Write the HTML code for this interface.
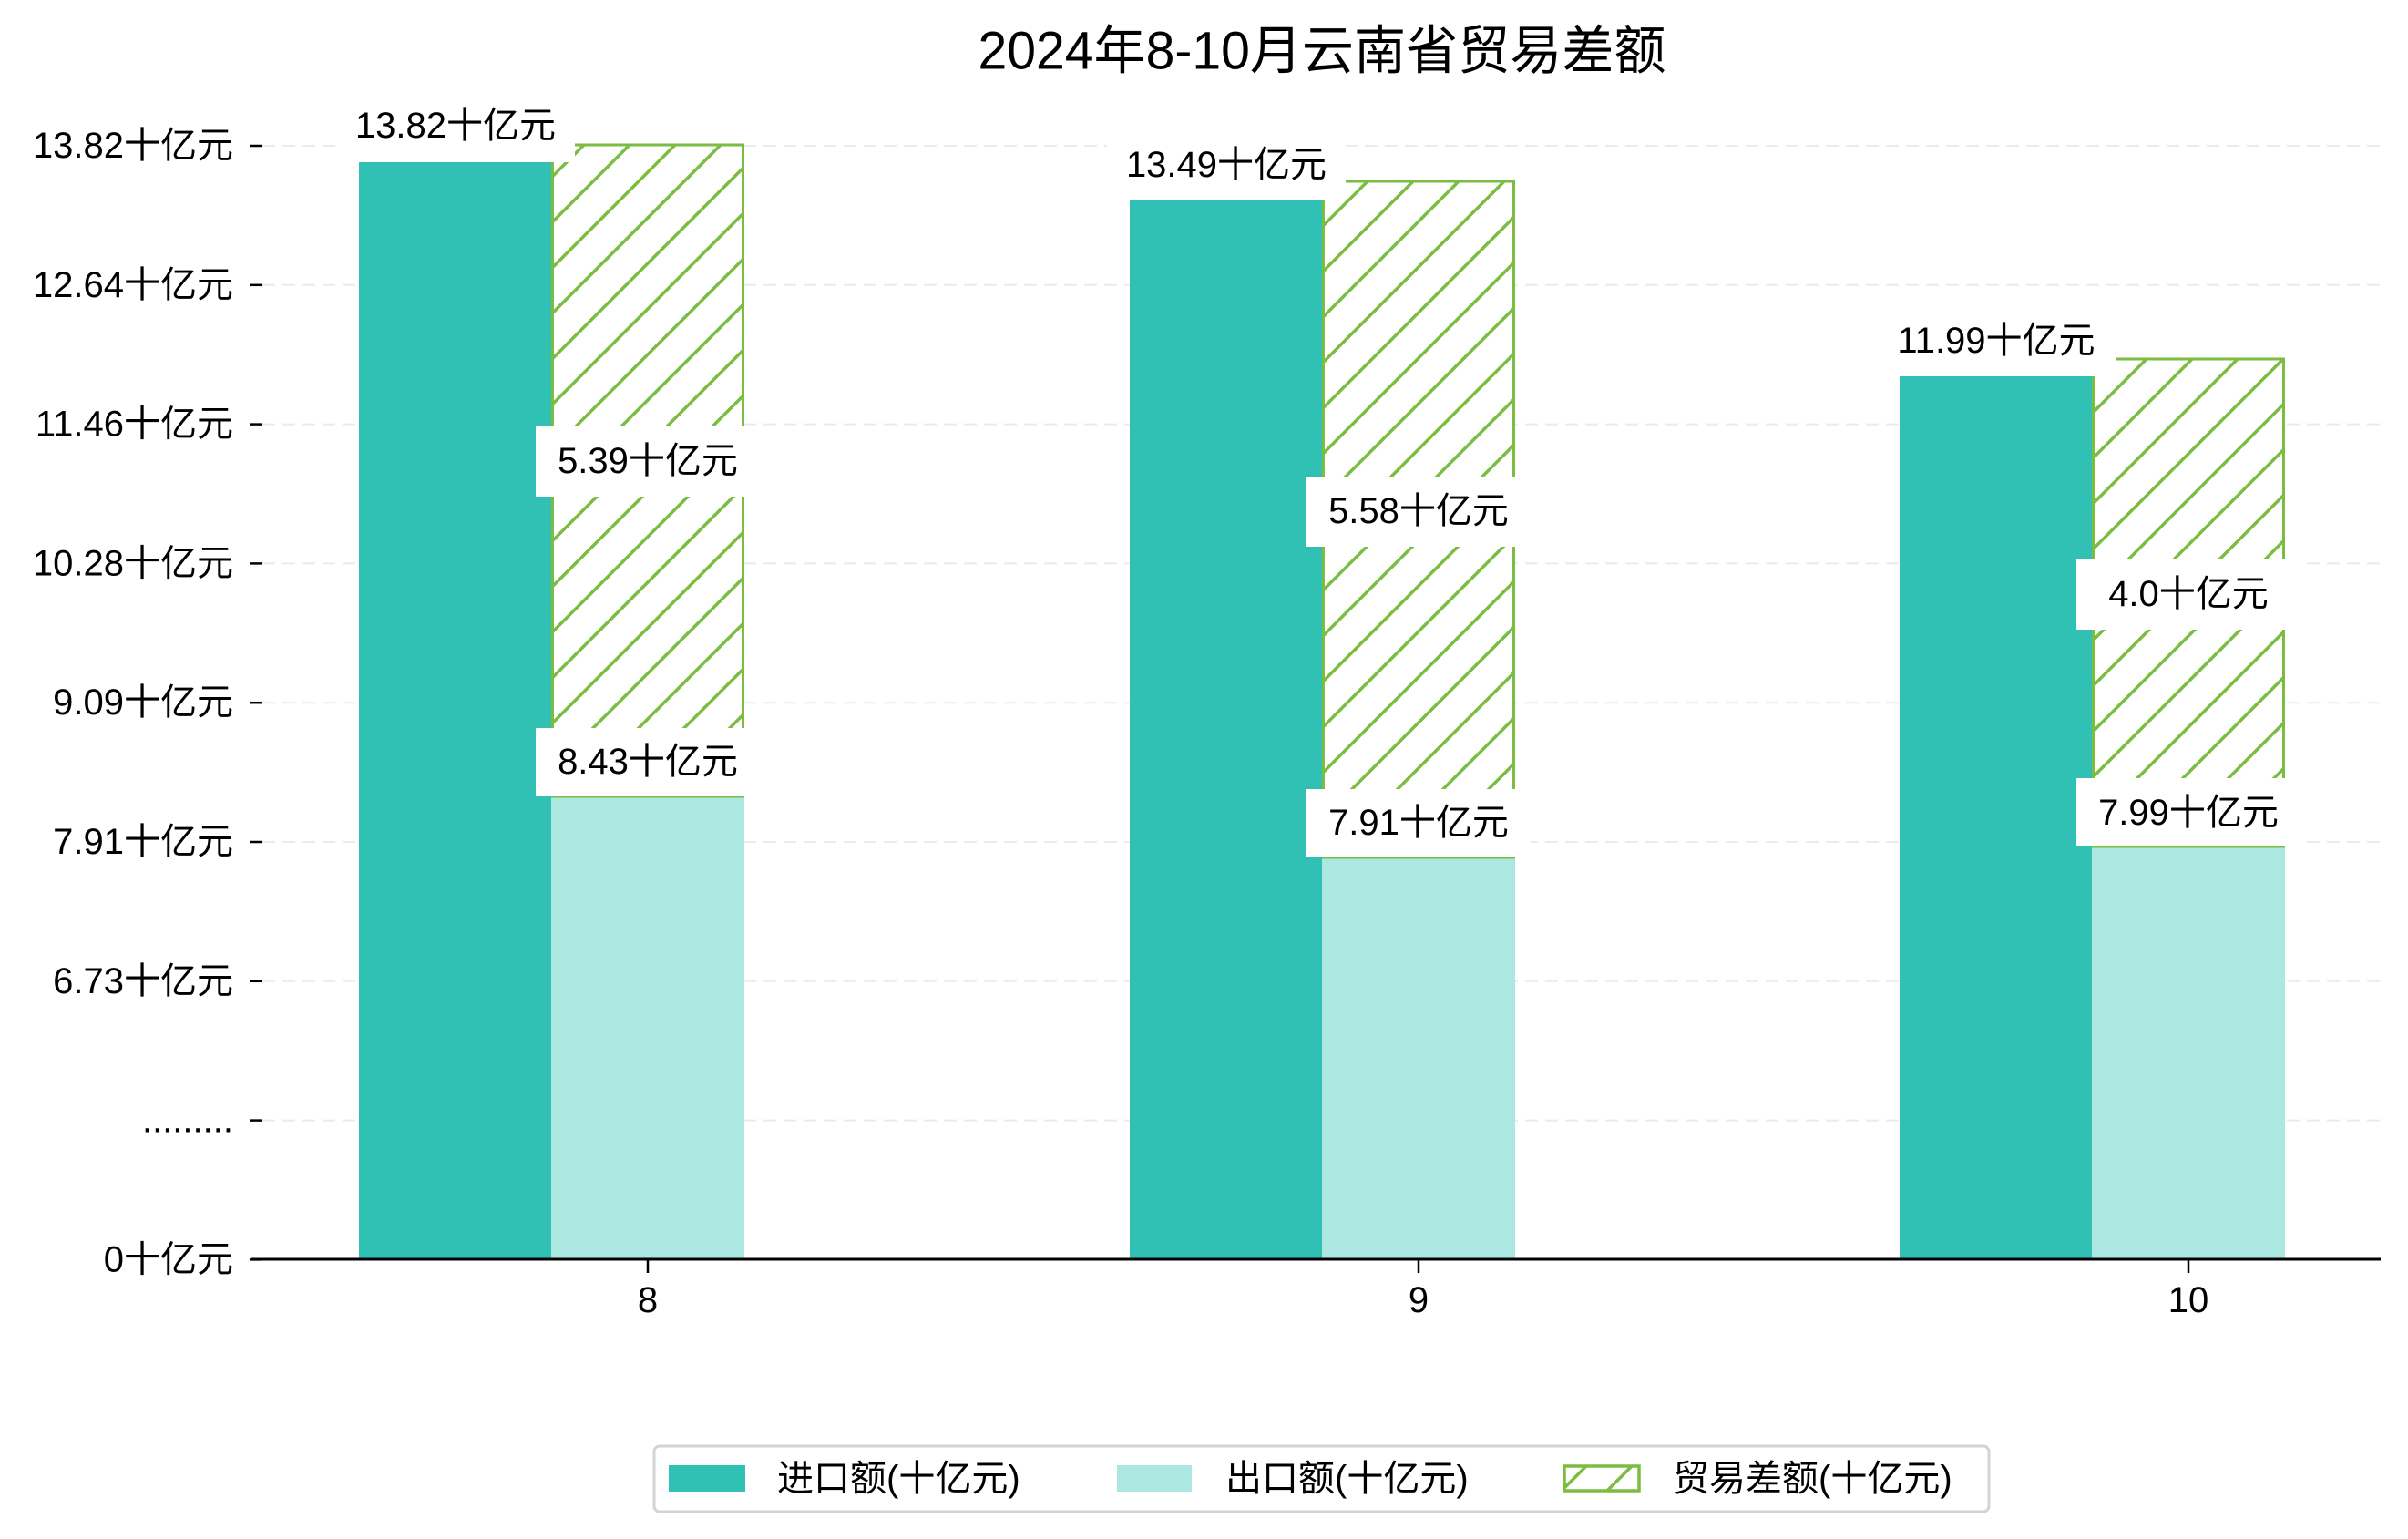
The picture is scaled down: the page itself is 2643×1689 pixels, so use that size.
<!DOCTYPE html>
<html><head><meta charset="utf-8"><style>
html,body{margin:0;padding:0;background:#fff;}
svg{display:block;}
text{font-family:"Liberation Sans","Noto Sans CJK SC",sans-serif;fill:#000;}
</style></head><body>
<svg width="2643" height="1689" viewBox="0 0 2643 1689" xmlns="http://www.w3.org/2000/svg">
<defs>
<pattern id="h" patternUnits="userSpaceOnUse" width="50" height="50">
<rect width="50" height="50" fill="#fff"/>
<path d="M-5,5 L5,-5 M0,50 L50,0 M45,55 L55,45" stroke="#7bbd40" stroke-width="3.5"/>
</pattern>
</defs>
<text x="1451" y="56" font-size="58" text-anchor="middle" dominant-baseline="central" textLength="755" lengthAdjust="spacingAndGlyphs">2024年8-10月云南省贸易差额</text>
<g stroke="#ebebeb" stroke-width="2" stroke-dasharray="14,8">
<line x1="288" x2="2613" y1="160" y2="160"/><line x1="288" x2="2613" y1="312.8" y2="312.8"/>
<line x1="288" x2="2613" y1="465.6" y2="465.6"/><line x1="288" x2="2613" y1="618.4" y2="618.4"/>
<line x1="288" x2="2613" y1="771.2" y2="771.2"/><line x1="288" x2="2613" y1="924" y2="924"/>
<line x1="288" x2="2613" y1="1076.8" y2="1076.8"/><line x1="288" x2="2613" y1="1229.6" y2="1229.6"/>
</g>
<g stroke="#000" stroke-width="2.5">
<line x1="274" x2="288" y1="160" y2="160"/><line x1="274" x2="288" y1="312.8" y2="312.8"/>
<line x1="274" x2="288" y1="465.6" y2="465.6"/><line x1="274" x2="288" y1="618.4" y2="618.4"/>
<line x1="274" x2="288" y1="771.2" y2="771.2"/><line x1="274" x2="288" y1="924" y2="924"/>
<line x1="274" x2="288" y1="1076.8" y2="1076.8"/><line x1="274" x2="288" y1="1229.6" y2="1229.6"/>
<line x1="274" x2="288" y1="1382.4" y2="1382.4"/>
<line x1="711" x2="711" y1="1382" y2="1397"/><line x1="1557" x2="1557" y1="1382" y2="1397"/><line x1="2402" x2="2402" y1="1382" y2="1397"/>
</g>
<g font-size="40" text-anchor="end" dominant-baseline="central">
<text x="256" y="160">13.82十亿元</text><text x="256" y="312.8">12.64十亿元</text>
<text x="256" y="465.6">11.46十亿元</text><text x="256" y="618.4">10.28十亿元</text>
<text x="256" y="771.2">9.09十亿元</text><text x="256" y="924">7.91十亿元</text>
<text x="256" y="1076.8">6.73十亿元</text><text x="256" y="1229.6">.........</text>
<text x="256" y="1382.4">0十亿元</text>
</g>
<g font-size="40" text-anchor="middle" dominant-baseline="central">
<text x="711" y="1427">8</text><text x="1557" y="1427">9</text><text x="2402" y="1427">10</text>
</g>
<!-- group 8 -->
<rect x="394" y="178" width="211" height="1204" fill="#31c0b4"/>
<rect x="605" y="874" width="212" height="508" fill="#abe8e2"/>
<rect x="606.5" y="159" width="209" height="715" fill="url(#h)" stroke="#7bbd40" stroke-width="3"/>
<!-- group 9 -->
<rect x="1240" y="219" width="211" height="1163" fill="#31c0b4"/>
<rect x="1451" y="941" width="212" height="441" fill="#abe8e2"/>
<rect x="1452.5" y="199" width="209" height="742" fill="url(#h)" stroke="#7bbd40" stroke-width="3"/>
<!-- group 10 -->
<rect x="2085" y="413" width="211" height="969" fill="#31c0b4"/>
<rect x="2296" y="929" width="212" height="453" fill="#abe8e2"/>
<rect x="2297.5" y="394" width="209" height="535" fill="url(#h)" stroke="#7bbd40" stroke-width="3"/>
<line x1="275" x2="2613" y1="1382" y2="1382" stroke="#000" stroke-width="3"/>
<!-- label boxes -->
<g fill="#fff">
<rect x="369" y="101" width="262" height="77"/>
<rect x="1215" y="142" width="262" height="77"/>
<rect x="2060" y="336" width="262" height="77"/>
<rect x="588" y="468" width="246" height="77"/>
<rect x="1434" y="523" width="246" height="77"/>
<rect x="2279" y="614" width="246" height="77"/>
<rect x="588" y="799" width="246" height="75"/>
<rect x="1434" y="866" width="246" height="75"/>
<rect x="2279" y="854" width="246" height="75"/>
</g>
<g font-size="40" text-anchor="middle" dominant-baseline="central">
<text x="500" y="138">13.82十亿元</text>
<text x="1346" y="181">13.49十亿元</text>
<text x="2191" y="374">11.99十亿元</text>
<text x="711" y="506">5.39十亿元</text>
<text x="1557" y="561">5.58十亿元</text>
<text x="2402" y="652">4.0十亿元</text>
<text x="711" y="836">8.43十亿元</text>
<text x="1557" y="903">7.91十亿元</text>
<text x="2402" y="892">7.99十亿元</text>
</g>
<!-- legend -->
<rect x="718" y="1587" width="1465" height="72" rx="6" fill="#fff" stroke="#d3d3d3" stroke-width="3"/>
<rect x="734" y="1608" width="84" height="29" fill="#31c0b4"/>
<rect x="1226" y="1608" width="82" height="29" fill="#abe8e2"/>
<rect x="1717" y="1609" width="82" height="27" fill="url(#h)" stroke="#7bbd40" stroke-width="3.5"/>
<g font-size="40" dominant-baseline="central">
<text x="853" y="1623">进口额(十亿元)</text>
<text x="1345" y="1623">出口额(十亿元)</text>
<text x="1836" y="1623">贸易差额(十亿元)</text>
</g>
</svg>
</body></html>
